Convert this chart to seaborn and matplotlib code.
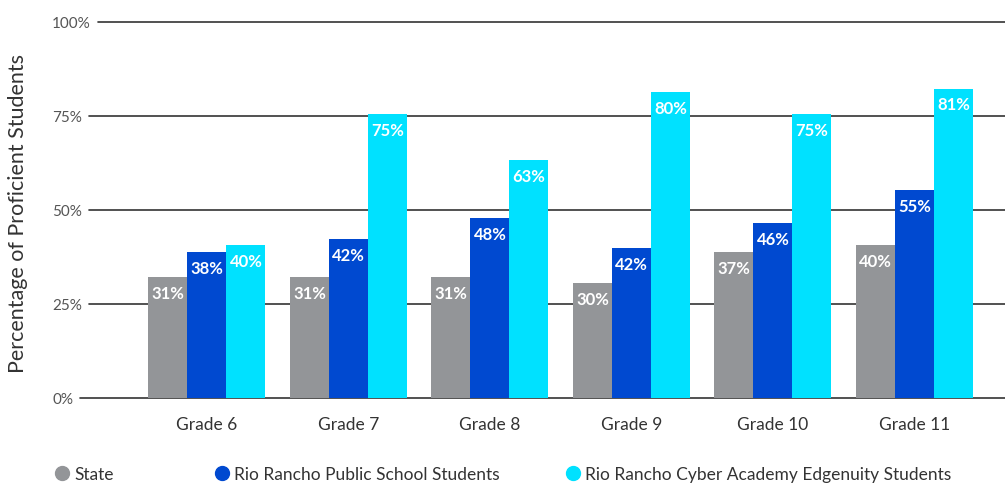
import matplotlib
matplotlib.use("Agg")
import matplotlib.pyplot as plt
import matplotlib.transforms as mtransforms
from matplotlib.lines import Line2D
import seaborn as sns
import pandas as pd

grades = ["Grade 6", "Grade 7", "Grade 8", "Grade 9", "Grade 10", "Grade 11"]
series = ["State", "Rio Rancho Public School Students",
          "Rio Rancho Cyber Academy Edgenuity Students"]
state = [32.2, 32.2, 32.1, 30.5, 38.7, 40.6]
rrps = [38.7, 42.2, 47.7, 39.8, 46.4, 55.2]
cyber = [40.6, 75.3, 63.1, 81.4, 75.3, 82.2]
state_labels = ["31%", "31%", "31%", "30%", "37%", "40%"]
rrps_labels = ["38%", "42%", "48%", "42%", "46%", "55%"]
cyber_labels = ["40%", "75%", "63%", "80%", "75%", "81%"]
yticks = [0, 25, 50, 75, 100]
ytick_labels = ["0%", "25%", "50%", "75%", "100%"]
colors = ["#939598", "#0049D0", "#00E1FF"]
y_title = "Percentage of Proficient Students"

sns.set_theme(style="white")
plt.rcParams["font.family"] = ["Lato", "DejaVu Sans"]

W, H = 1005, 485
fig = plt.figure(figsize=(W / 100, H / 100), dpi=100)
ax = fig.add_axes([81 / W, 1 - 399 / H, 1 - 81 / W, (399 - 22.5) / H])

df = pd.DataFrame({
    "grade": grades * 3,
    "series": [series[0]] * 6 + [series[1]] * 6 + [series[2]] * 6,
    "value": state + rrps + cyber,
})

sns.barplot(data=df, x="grade", y="value", hue="series", order=grades,
            hue_order=series, palette=colors, width=0.827, gap=0,
            saturation=1, legend=False, ax=ax, zorder=3, linewidth=0,
            edgecolor="none")

ax.set_xlim(-0.89, 5.64)
ax.set_ylim(0, 100)
for s in ax.spines.values():
    s.set_visible(False)
ax.grid(False)
ax.set_xlabel("")
ax.set_ylabel("")
ax.set_yticks(yticks)
ax.set_yticklabels(ytick_labels)
ax.tick_params(axis="y", length=0, pad=29 * 0.72, labelsize=11, labelcolor="#555555")
for t in ax.get_yticklabels():
    t.set_horizontalalignment("left")
ax.tick_params(axis="x", length=0, pad=13, labelsize=12.5, labelcolor="#333333")

all_labels = [state_labels, rrps_labels, cyber_labels]
for cont, labs in zip(ax.containers, all_labels):
    for bar, lab in zip(cont, labs):
        ax.annotate(lab, (bar.get_x() + bar.get_width() / 2, bar.get_height()),
                    xytext=(0, -11.5), textcoords="offset points",
                    ha="center", va="center", color="white",
                    fontweight="bold", fontsize=12, zorder=4)

# gridlines starting after each tick label, drawn behind the bars
fig.canvas.draw()
renderer = fig.canvas.get_renderer()
trans = mtransforms.blended_transform_factory(fig.transFigure, ax.transData)
for t, yv in zip(ax.get_yticklabels(), yticks):
    bb = t.get_window_extent(renderer)
    x0 = (bb.x1 + 7) / W
    line = Line2D([x0, 1.0], [yv, yv], transform=trans, color="#333333",
                  lw=1.2, zorder=1, clip_on=False)
    ax.add_line(line)

fig.text(18 / W, 1 - 214 / H, y_title, rotation=90, ha="center", va="center",
         fontsize=15.5, color="#333333")

# legend
leg_x = [62, 222, 573]
fs = 12.5
for name, col, xm in zip(series, colors, leg_x):
    h = Line2D([], [], marker="o", linestyle="none", markersize=10,
               markerfacecolor=col, markeredgecolor=col)
    fpx = fs * 100 / 72
    anchor = (xm - fpx / 2) / W
    fig.legend([h], [name], loc="center left",
               bbox_to_anchor=(anchor, 1 - 475 / H), frameon=False,
               borderpad=0, borderaxespad=0, handlelength=1,
               handletextpad=0.2, fontsize=fs, labelcolor="#333333")

fig.savefig("out.png", dpi=100)
